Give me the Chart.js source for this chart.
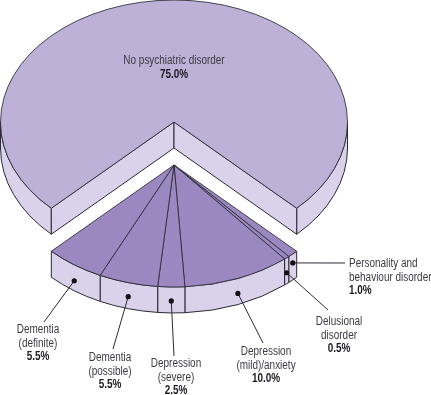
<!DOCTYPE html>
<html>
<head>
<meta charset="utf-8">
<style>
  html, body { margin: 0; padding: 0; background: #fff; }
  canvas { display: block; }
</style>
<script src="https://cdn.jsdelivr.net/npm/chart.js@4"></script>
</head>
<body>
<canvas id="myChart" width="431" height="395"></canvas>
<script>
var categories = ["No psychiatric disorder", "Personality and behaviour disorder", "Delusional disorder",
  "Depression (mild)/anxiety", "Depression (severe)", "Dementia (possible)", "Dementia (definite)"];
var yValues = [75, 1, 0.5, 10, 2.5, 5.5, 5.5];
var topColors = ["#bdb1d8", "#9c88c0", "#9c88c0", "#9c88c0", "#9c88c0", "#9c88c0", "#9c88c0"];
var wallColors = ["#d9d2ea", "#d9d2ea", "#d9d2ea", "#d9d2ea", "#d9d2ea", "#d9d2ea", "#d9d2ea"];

// text lines per slice, last line (the percentage) is added from yValues
var labelLines = [
  ["No psychiatric disorder"],
  ["Personality and", "behaviour disorder"],
  ["Delusional", "disorder"],
  ["Depression", "(mild)/anxiety"],
  ["Depression", "(severe)"],
  ["Dementia", "(possible)"],
  ["Dementia", "(definite)"]
];
var labelX = [174, 349, 339, 266, 176, 110, 38];
var labelY = [64, 267, 325, 355, 367, 361, 333];
var labelAlign = ["center", "left", "center", "center", "center", "center", "center"];
var leaderEndX = [null, 345, 328, 263, 174, 113, 44];
var leaderEndY = [null, 263, 310, 343, 356, 349, 322];
var dotDepth = [null, 9, 15, 15, 14, 14, 16];

var squash = 0.703;
var wallDepth = 26;
var topY = 122;
var burst = 43;
var lineColor = "#2b2a33";
var textNarrow = 0.83;

function sliceGeometry(arc, i) {
  return {
    x: arc.x,
    y: topY + (i === 0 ? 0 : burst),
    rx: arc.outerRadius,
    ry: arc.outerRadius * squash,
    start: arc.startAngle,
    end: arc.endAngle
  };
}

function drawRim(ctx, g, a0, a1, fill) {
  if (a1 <= a0) return;
  ctx.beginPath();
  ctx.ellipse(g.x, g.y, g.rx, g.ry, 0, a0, a1);
  ctx.ellipse(g.x, g.y + wallDepth, g.rx, g.ry, 0, a1, a0, true);
  ctx.closePath();
  ctx.fillStyle = fill;
  ctx.fill();
  ctx.stroke();
}

function drawNotch(ctx, g, angle, fill) {
  var ex = g.x + g.rx * Math.cos(angle);
  var ey = g.y + g.ry * Math.sin(angle);
  ctx.beginPath();
  ctx.moveTo(g.x, g.y);
  ctx.lineTo(ex, ey);
  ctx.lineTo(ex, ey + wallDepth);
  ctx.lineTo(g.x, g.y + wallDepth);
  ctx.closePath();
  ctx.fillStyle = fill;
  ctx.fill();
  ctx.stroke();
}

function narrowText(ctx, text, x, y) {
  ctx.save();
  ctx.translate(x, y);
  ctx.scale(textNarrow, 1);
  ctx.fillText(text, 0, 0);
  ctx.restore();
}

var pie3d = {
  id: "pie3d",
  beforeDatasetDraw: function (chart) {
    var ctx = chart.ctx;
    var arcs = chart.getDatasetMeta(0).data;
    ctx.save();
    ctx.lineWidth = 1;
    ctx.strokeStyle = lineColor;
    arcs.forEach(function (arc, i) {
      var g = sliceGeometry(arc, i);
      var tau = Math.PI * 2;
      // only the front half of the rim can be seen
      drawRim(ctx, g, Math.max(g.start, 0), Math.min(g.end, Math.PI), wallColors[i]);
      drawRim(ctx, g, Math.max(g.start, tau), Math.min(g.end, tau + Math.PI), wallColors[i]);
      if (i === 0) {
        drawNotch(ctx, g, g.start, wallColors[i]);
        drawNotch(ctx, g, g.end, wallColors[i]);
      }
      ctx.save();
      ctx.translate(g.x, g.y);
      ctx.scale(1, squash);
      ctx.translate(-arc.x, -arc.y);
      arc.draw(ctx);
      ctx.restore();
    });
    ctx.restore();
    return false;
  },
  afterDatasetsDraw: function (chart) {
    var ctx = chart.ctx;
    var arcs = chart.getDatasetMeta(0).data;
    ctx.save();
    arcs.forEach(function (arc, i) {
      var g = sliceGeometry(arc, i);
      if (leaderEndX[i] !== null) {
        var mid = (g.start + g.end) / 2;
        var dx = g.x + g.rx * Math.cos(mid);
        var dy = g.y + g.ry * Math.sin(mid) + dotDepth[i];
        ctx.strokeStyle = lineColor;
        ctx.lineWidth = 1;
        ctx.beginPath();
        ctx.moveTo(dx, dy);
        ctx.lineTo(leaderEndX[i], leaderEndY[i]);
        ctx.stroke();
        ctx.fillStyle = "#111";
        ctx.beginPath();
        ctx.arc(dx, dy, 2.6, 0, Math.PI * 2);
        ctx.fill();
      }
      ctx.textAlign = labelAlign[i];
      ctx.textBaseline = "alphabetic";
      ctx.font = "12px 'Liberation Sans'";
      ctx.fillStyle = "#3c3a42";
      var y = labelY[i];
      labelLines[i].forEach(function (line) {
        narrowText(ctx, line, labelX[i], y);
        y += 13.7;
      });
      ctx.font = "bold 12px 'Liberation Sans'";
      ctx.fillStyle = "#1c1b20";
      narrowText(ctx, yValues[i].toFixed(1) + "%", labelX[i], y);
    });
    ctx.restore();
  }
};

new Chart("myChart", {
  type: "pie",
  data: {
    labels: categories,
    datasets: [{
      data: yValues,
      backgroundColor: topColors,
      borderColor: lineColor,
      borderWidth: 1
    }]
  },
  options: {
    responsive: false,
    animation: false,
    rotation: 225,
    layout: { padding: { left: 0, right: 83, top: 0, bottom: 0 } },
    plugins: {
      legend: { display: false },
      title: { display: false },
      tooltip: { enabled: false }
    }
  },
  plugins: [pie3d]
});
</script>
</body>
</html>
